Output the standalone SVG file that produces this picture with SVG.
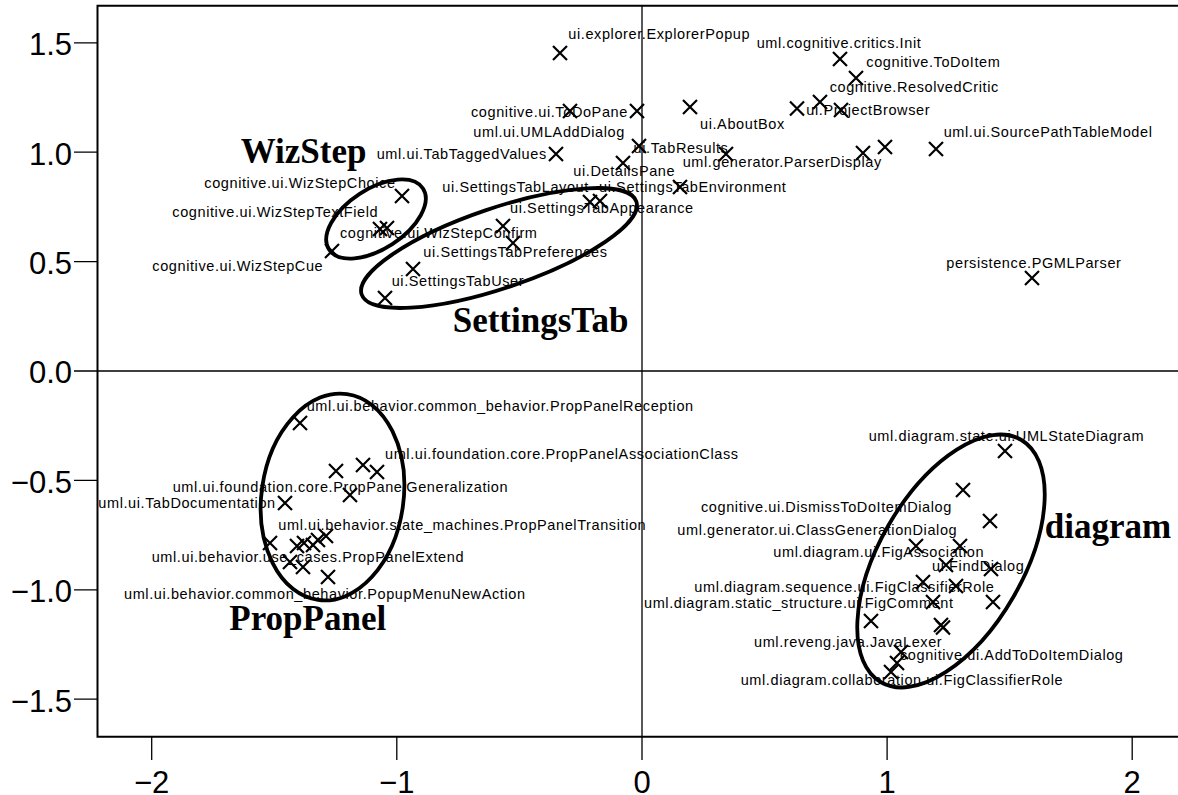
<svg xmlns="http://www.w3.org/2000/svg" xmlns:xlink="http://www.w3.org/1999/xlink" width="1178" height="795" viewBox="0 0 1178 795">
<style>
.lbl{font-family:"Liberation Sans",Arial,sans-serif;font-size:14.5px;letter-spacing:0.6px;fill:#000}
.big{font-family:"Liberation Serif","Times New Roman",serif;font-weight:bold;font-size:35px;fill:#000}
.tk{font-family:"Liberation Sans",Arial,sans-serif;font-size:31px;fill:#000}
.ell{fill:none;stroke:#000;stroke-width:3.8}
.axis{fill:none;stroke:#000;stroke-width:2}
.zero{fill:none;stroke:#000;stroke-width:1.3}
</style>
<defs>
<path id="x" d="M-7,-7L7,7M-7,7L7,-7" stroke="#000" stroke-width="2.2" fill="none"/>
</defs>
<rect width="1178" height="795" fill="#fff"/>
<g id="axes">
<path class="axis" d="M1180,5.7H97.5V736.7H1180"/>
<path class="zero" d="M74,371H1180M642,5.7V760"/>
<path class="zero" d="M74,42.8H97.5M74,152.2H97.5M74,261.6H97.5M74,480.4H97.5M74,589.8H97.5M74,699.2H97.5"/>
<path class="zero" d="M151.7,736.7V760M396.8,736.7V760M887.1,736.7V760M1132.2,736.7V760"/>
<g class="tk" text-anchor="end">
<text x="72" y="55.1">1.5</text>
<text x="72" y="164.5">1.0</text>
<text x="72" y="273.9">0.5</text>
<text x="72" y="383.3">0.0</text>
<text x="72" y="492.7">−0.5</text>
<text x="72" y="602.1">−1.0</text>
<text x="72" y="711.5">−1.5</text>
</g>
<g class="tk" text-anchor="middle">
<text x="151.7" y="793">−2</text>
<text x="396.8" y="793">−1</text>
<text x="642" y="793">0</text>
<text x="887.1" y="793">1</text>
<text x="1132.2" y="793">2</text>
</g>
</g>
<g id="connectors"></g>
<g id="points">
<use xlink:href="#x" x="560" y="53"/>
<use xlink:href="#x" x="570" y="111"/>
<use xlink:href="#x" x="637" y="111"/>
<use xlink:href="#x" x="690" y="107"/>
<use xlink:href="#x" x="797" y="108.5"/>
<use xlink:href="#x" x="820" y="102"/>
<use xlink:href="#x" x="841" y="110"/>
<use xlink:href="#x" x="840" y="59"/>
<use xlink:href="#x" x="856" y="78"/>
<use xlink:href="#x" x="556" y="154"/>
<use xlink:href="#x" x="639" y="146"/>
<use xlink:href="#x" x="623" y="163"/>
<use xlink:href="#x" x="680" y="187"/>
<use xlink:href="#x" x="726" y="154"/>
<use xlink:href="#x" x="863" y="153"/>
<use xlink:href="#x" x="885" y="147"/>
<use xlink:href="#x" x="936" y="149"/>
<use xlink:href="#x" x="1032" y="278"/>
</g>
<g id="labels-top">
<text class="lbl" x="568.3" y="39">ui.explorer.ExplorerPopup</text>
<text class="lbl" x="756.7" y="47.5">uml.cognitive.critics.Init</text>
<text class="lbl" x="866.3" y="66.7">cognitive.ToDoItem</text>
<text class="lbl" x="829.7" y="91.7">cognitive.ResolvedCritic</text>
<text class="lbl" x="471" y="116.7">cognitive.ui.ToDoPane</text>
<text class="lbl" x="806.3" y="115">ui.ProjectBrowser</text>
<text class="lbl" x="700" y="129.3">ui.AboutBox</text>
<text class="lbl" x="473.3" y="136.7">uml.ui.UMLAddDialog</text>
<text class="lbl" x="943.7" y="136.7">uml.ui.SourcePathTableModel</text>
<text class="lbl" x="376.7" y="158.5">uml.ui.TabTaggedValues</text>
<text class="lbl" x="633.6" y="153.3">ui.TabResults</text>
<text class="lbl" x="682.7" y="166.7">uml.generator.ParserDisplay</text>
<text class="lbl" x="573.3" y="176">ui.DetailsPane</text>
<text class="lbl" x="599" y="191.7">ui.SettingsTabEnvironment</text>
<text class="lbl" x="946.3" y="268.3">persistence.PGMLParser</text>
</g>
<g id="WizStep">
<ellipse class="ell" cx="376" cy="219" rx="56" ry="30" transform="rotate(-33 376 219)"/>
<use xlink:href="#x" x="402" y="196"/>
<use xlink:href="#x" x="380" y="229"/>
<use xlink:href="#x" x="387" y="228"/>
<use xlink:href="#x" x="332" y="251"/>
<text class="big" x="240.7" y="163">WizStep</text>
<text class="lbl" x="204.3" y="188">cognitive.ui.WizStepChoice</text>
<text class="lbl" x="172.3" y="217.3">cognitive.ui.WizStepTextField</text>
<text class="lbl" x="340" y="238.3">cognitive.ui.WizStepConfirm</text>
<text class="lbl" x="152.3" y="270.7">cognitive.ui.WizStepCue</text>
</g>
<g id="SettingsTab">
<ellipse class="ell" cx="499" cy="248" rx="145" ry="40" transform="rotate(-18.7 499 248)"/>
<use xlink:href="#x" x="590" y="202"/>
<use xlink:href="#x" x="600" y="201"/>
<use xlink:href="#x" x="503" y="226"/>
<use xlink:href="#x" x="513" y="243"/>
<use xlink:href="#x" x="413" y="269"/>
<use xlink:href="#x" x="385" y="298"/>
<text class="lbl" x="442.3" y="191.7">ui.SettingsTabLayout</text>
<text class="lbl" x="510" y="213.3">ui.SettingsTabAppearance</text>
<text class="lbl" x="423.3" y="257.3">ui.SettingsTabPreferences</text>
<text class="lbl" x="391.7" y="286">ui.SettingsTabUser</text>
<text class="big" x="452.7" y="331.7">SettingsTab</text>
</g>
<g id="PropPanel">
<ellipse class="ell" cx="332.5" cy="497" rx="71" ry="104" transform="rotate(8 332.5 497)"/>
<use xlink:href="#x" x="300" y="423"/>
<use xlink:href="#x" x="336" y="471"/>
<use xlink:href="#x" x="363" y="465"/>
<use xlink:href="#x" x="377" y="472"/>
<use xlink:href="#x" x="350" y="495"/>
<use xlink:href="#x" x="285" y="503"/>
<use xlink:href="#x" x="270" y="543"/>
<use xlink:href="#x" x="297" y="546"/>
<use xlink:href="#x" x="304" y="543"/>
<use xlink:href="#x" x="313" y="545"/>
<use xlink:href="#x" x="318" y="540"/>
<use xlink:href="#x" x="326" y="536"/>
<use xlink:href="#x" x="290" y="562"/>
<use xlink:href="#x" x="303" y="567"/>
<use xlink:href="#x" x="328" y="577"/>
<text class="lbl" x="306.7" y="411">uml.ui.behavior.common_behavior.PropPanelReception</text>
<text class="lbl" x="385" y="459">uml.ui.foundation.core.PropPanelAssociationClass</text>
<text class="lbl" x="172.7" y="492.3">uml.ui.foundation.core.PropPanelGeneralization</text>
<text class="lbl" x="98.3" y="508.3">uml.ui.TabDocumentation</text>
<text class="lbl" x="278.3" y="530">uml.ui.behavior.state_machines.PropPanelTransition</text>
<text class="lbl" x="151.7" y="561.7">uml.ui.behavior.use_cases.PropPanelExtend</text>
<text class="lbl" x="124" y="599">uml.ui.behavior.common_behavior.PopupMenuNewAction</text>
<text class="big" x="229.3" y="629.5">PropPanel</text>
</g>
<g id="diagram">
<ellipse class="ell" cx="951" cy="561" rx="140" ry="72" transform="rotate(-60 951 561)"/>
<use xlink:href="#x" x="1005" y="451"/>
<use xlink:href="#x" x="963" y="490"/>
<use xlink:href="#x" x="990" y="521"/>
<use xlink:href="#x" x="916" y="546"/>
<use xlink:href="#x" x="960" y="546"/>
<use xlink:href="#x" x="946" y="565"/>
<use xlink:href="#x" x="991" y="569"/>
<use xlink:href="#x" x="923" y="582"/>
<use xlink:href="#x" x="956" y="586"/>
<use xlink:href="#x" x="933" y="602"/>
<use xlink:href="#x" x="993" y="602"/>
<use xlink:href="#x" x="871" y="621"/>
<use xlink:href="#x" x="941" y="625"/>
<use xlink:href="#x" x="943" y="627.5"/>
<use xlink:href="#x" x="901" y="652"/>
<use xlink:href="#x" x="897" y="663"/>
<use xlink:href="#x" x="891" y="672"/>
<text class="lbl" x="868.7" y="440.7">uml.diagram.state.ui.UMLStateDiagram</text>
<text class="lbl" x="701" y="512.3">cognitive.ui.DismissToDoItemDialog</text>
<text class="lbl" x="677.3" y="535">uml.generator.ui.ClassGenerationDialog</text>
<text class="lbl" x="773.3" y="557.3">uml.diagram.ui.FigAssociation</text>
<text class="lbl" x="932" y="570.7">ui.FindDialog</text>
<text class="lbl" x="694.3" y="591.7">uml.diagram.sequence.ui.FigClassifierRole</text>
<text class="lbl" x="644" y="608.3">uml.diagram.static_structure.ui.FigComment</text>
<text class="lbl" x="754" y="646.7">uml.reveng.java.JavaLexer</text>
<text class="lbl" x="900" y="660">cognitive.ui.AddToDoItemDialog</text>
<text class="lbl" x="740.7" y="685">uml.diagram.collaboration.ui.FigClassifierRole</text>
<text class="big" x="1044.7" y="537.7">diagram</text>
</g>
</svg>
